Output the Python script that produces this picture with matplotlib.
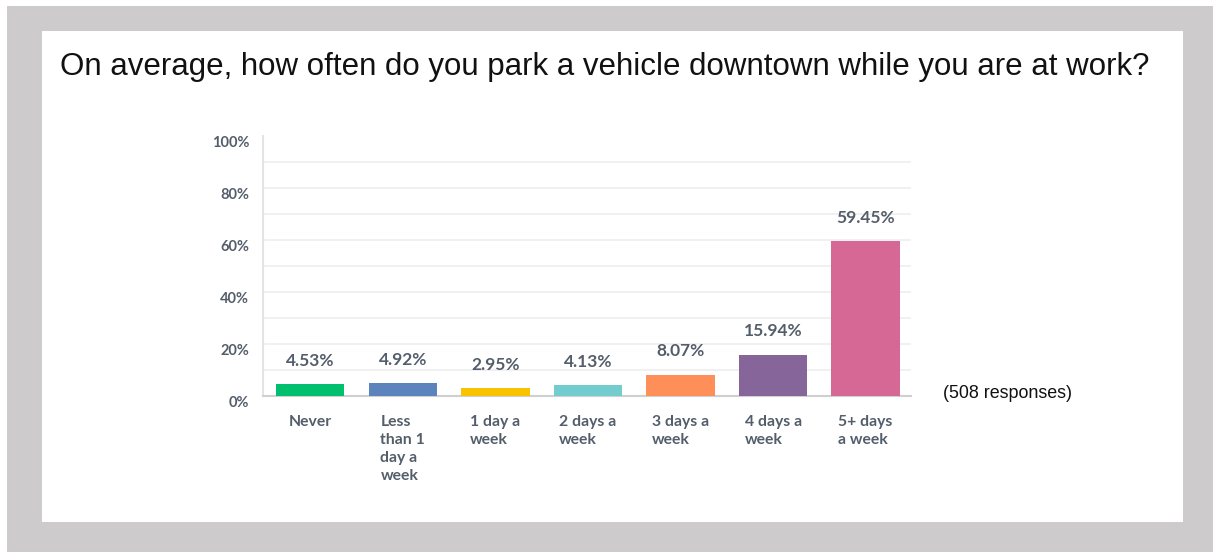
import matplotlib
matplotlib.use("Agg")
import matplotlib.pyplot as plt
from matplotlib.patches import Rectangle

# survey answers and shares (%)
categories = ["Never", "Less\nthan 1\nday a\nweek", "1 day a\nweek", "2 days a\nweek",
              "3 days a\nweek", "4 days a\nweek", "5+ days\na week"]
shares = [4.53, 4.92, 2.95, 4.13, 8.07, 15.94, 59.45]
value_labels = ["4.53%", "4.92%", "2.95%", "4.13%", "8.07%", "15.94%", "59.45%"]
bar_colors = ["#00bf6f", "#5a84bb", "#f9c301", "#73cdcf", "#fe8f58", "#85659a", "#d66896"]
y_ticks = [0, 20, 40, 60, 80, 100]
y_tick_labels = ["0%", "20%", "40%", "60%", "80%", "100%"]
grid_levels = [10, 20, 30, 40, 50, 60, 70, 80, 90]

title = "On average, how often do you park a vehicle downtown while you are at work?"
note = "(508 responses)"

W, H = 1213, 552
fig = plt.figure(figsize=(W / 100, H / 100), dpi=100)
fig.patch.set_facecolor("white")


def px_rect(x0, y0, x1, y1, color):
    # rectangle given in image pixels (top-left origin)
    fig.add_artist(Rectangle((x0 / W, 1 - y1 / H), (x1 - x0) / W, (y1 - y0) / H,
                             transform=fig.transFigure, facecolor=color,
                             edgecolor="none", zorder=0))


px_rect(7, 6, W, H, "#cdcbcc")
px_rect(42, 31, 1183, 522, "white")

fig.text(60 / W, 1 - 75 / H, title, fontsize=22.5, family="Liberation Sans",
         color="#111111", va="baseline", ha="left")
fig.text(943 / W, 1 - 398 / H, note, fontsize=12.9, family="Liberation Sans",
         color="#111111", va="baseline", ha="left")

ax = fig.add_axes([263 / W, 1 - 396 / H, (911 - 263) / W, (396 - 136) / H])
ax.set_facecolor("none")
x = list(range(len(categories)))
ax.bar(x, shares, width=0.74, color=bar_colors, zorder=3)
ax.set_xlim(-0.51, 6.49)
ax.set_ylim(0, 100)

# light gridlines every 10%
for v in grid_levels:
    ax.axhline(v, color="#ededed", lw=1.2, zorder=1)

ax.set_yticks(y_ticks)
ax.set_yticklabels(y_tick_labels)
ax.tick_params(axis="y", length=0, pad=10, labelsize=10.5, labelcolor="#545e6b")
for lbl in ax.get_yticklabels():
    lbl.set_fontweight("bold")
    lbl.set_family("Lato")
    lbl.set_va("top")

ax.set_xticks([])
for s in ["top", "right"]:
    ax.spines[s].set_visible(False)
ax.spines["left"].set_color("#e3e3e3")
ax.spines["left"].set_linewidth(1.5)
ax.spines["bottom"].set_color("#d0d0d0")
ax.spines["bottom"].set_linewidth(1.5)

# value labels above bars
for xi, v, t in zip(x, shares, value_labels):
    ax.annotate(t, (xi, v), xytext=(0, 17), textcoords="offset points",
                ha="center", va="center", fontsize=12.5, family="Lato",
                fontweight="bold", color="#545e6b")

# category labels, block centred under each bar, lines left aligned
for xi, c in zip(x, categories):
    ax.annotate(c, (xi, 0), xytext=(0, -14), textcoords="offset points",
                ha="center", va="top", multialignment="left", fontsize=11.3,
                family="Lato", fontweight="bold", color="#545e6b", linespacing=1.35)

fig.savefig("out.png", dpi=100)
